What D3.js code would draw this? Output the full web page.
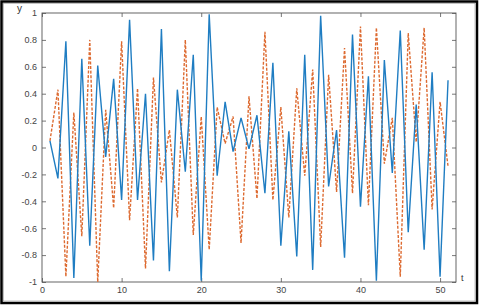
<!DOCTYPE html>
<html>
<head>
<meta charset="utf-8">
<script src="https://cdn.jsdelivr.net/npm/d3@7"></script>
<style>
  body { margin: 0; background: #fff; }
  svg { display: block; font-family: "Liberation Sans", Arial, sans-serif; }
</style>
</head>
<body>
<svg id="chart" width="480" height="306"></svg>
<script>
const tValues = d3.range(1, 52)
const blueValues = [
  0.05, -0.23, 0.79, -0.97, 0.66, -0.73, 0.61, -0.07, 0.51, -0.39,
  0.95, -0.39, 0.40, -0.84, 0.88, -0.92, 0.43, -0.18, 0.69, -0.99,
  0.99, -0.21, 0.34, -0.03, 0.22, -0.01, 0.24, -0.34, 0.63, -0.73,
  0.12, -0.81, 0.69, -0.91, 0.98, -0.29, 0.13, -0.82, 0.84, -0.44,
  0.53, -0.99, 0.65, -0.19, 0.87, -0.63, 0.32, -0.76, 0.56, -0.96,
  0.50
]
const orangeValues = [
  0.05, 0.43, -0.96, 0.26, -0.66, 0.80, -1.0, 0.28, -0.45, 0.79,
  -0.54, 0.44, -0.90, 0.52, -0.26, 0.13, -0.52, 0.80, -0.65, 0.23,
  -0.76, 0.30, 0.03, 0.23, -0.71, 0.38, -0.38, 0.86, -0.39, 0.30,
  -0.52, 0.44, -0.21, 0.58, -0.74, 0.54, -0.33, 0.74, -0.34, 0.90,
  -0.43, 0.89, -0.12, 0.22, -0.96, 0.85, 0.04, 0.89, -0.46, 0.34,
  -0.14
]
const xTicks = [0, 10, 20, 30, 40, 50]
const yTicks = [-1, -0.8, -0.6, -0.4, -0.2, 0, 0.2, 0.4, 0.6, 0.8, 1]

const svg = d3.select('#chart')
const plotLeft = 42, plotRight = 456, plotTop = 13, plotBottom = 282

// outer frame of the picture
svg.append('rect')
  .attr('x', 1.5).attr('y', 1.5)
  .attr('width', 475.5).attr('height', 301.5)
  .attr('fill', 'none')
  .attr('stroke', '#000')
  .attr('stroke-width', 2.5)
svg.append('rect')
  .attr('x', 3.5).attr('y', 3.5)
  .attr('width', 471.5).attr('height', 297.5)
  .attr('fill', 'none')
  .attr('stroke', '#999')
  .attr('stroke-width', 0.6)

const x = d3.scaleLinear().domain([0, 52]).range([plotLeft, plotRight])
const y = d3.scaleLinear().domain([-1, 1]).range([plotBottom, plotTop])

const axisColour = '#555'
const tickLen = 4

const fmt = (d) => (d === 0 ? '0' : String(+d.toFixed(1)))

function styleAxis(g) {
  g.select('.domain').remove()
  g.selectAll('line').attr('stroke', axisColour).attr('stroke-width', 0.8)
  g.selectAll('text').attr('fill', '#444').attr('font-size', 9)
}

svg.append('g')
  .attr('transform', `translate(0, ${plotBottom})`)
  .call(d3.axisBottom(x).tickValues(xTicks).tickFormat(fmt).tickSizeInner(-tickLen).tickSizeOuter(0).tickPadding(5))
  .call(styleAxis)

svg.append('g')
  .attr('transform', `translate(0, ${plotTop})`)
  .call(d3.axisTop(x).tickValues(xTicks).tickFormat('').tickSizeInner(-tickLen).tickSizeOuter(0))
  .call(styleAxis)

svg.append('g')
  .attr('transform', `translate(${plotLeft}, 0)`)
  .call(d3.axisLeft(y).tickValues(yTicks).tickFormat(fmt).tickSizeInner(-tickLen).tickSizeOuter(0).tickPadding(5))
  .call(styleAxis)

svg.append('g')
  .attr('transform', `translate(${plotRight}, 0)`)
  .call(d3.axisRight(y).tickValues(yTicks).tickFormat('').tickSizeInner(-tickLen).tickSizeOuter(0))
  .call(styleAxis)

// plot box
svg.append('rect')
  .attr('x', plotLeft).attr('y', plotTop)
  .attr('width', plotRight - plotLeft).attr('height', plotBottom - plotTop)
  .attr('fill', 'none')
  .attr('stroke', axisColour)
  .attr('stroke-width', 0.9)

const line = d3.line()
  .x((d) => x(d[0]))
  .y((d) => y(d[1]))

svg.append('path')
  .datum(tValues.map((t, i) => [t, orangeValues[i]]))
  .attr('d', line)
  .attr('fill', 'none')
  .attr('stroke', '#DD6A30')
  .attr('stroke-width', 1.4)
  .attr('stroke-dasharray', '3,1.6')

svg.append('path')
  .datum(tValues.map((t, i) => [t, blueValues[i]]))
  .attr('d', line)
  .attr('fill', 'none')
  .attr('stroke', '#1F7DC2')
  .attr('stroke-width', 1.4)
  .attr('stroke-linejoin', 'miter')

svg.append('text')
  .attr('x', 17).attr('y', 12)
  .attr('font-size', 10)
  .attr('fill', '#333')
  .text('y')

svg.append('text')
  .attr('x', 461).attr('y', 281)
  .attr('font-size', 9)
  .attr('fill', '#333')
  .text('t')
</script>
</body>
</html>
